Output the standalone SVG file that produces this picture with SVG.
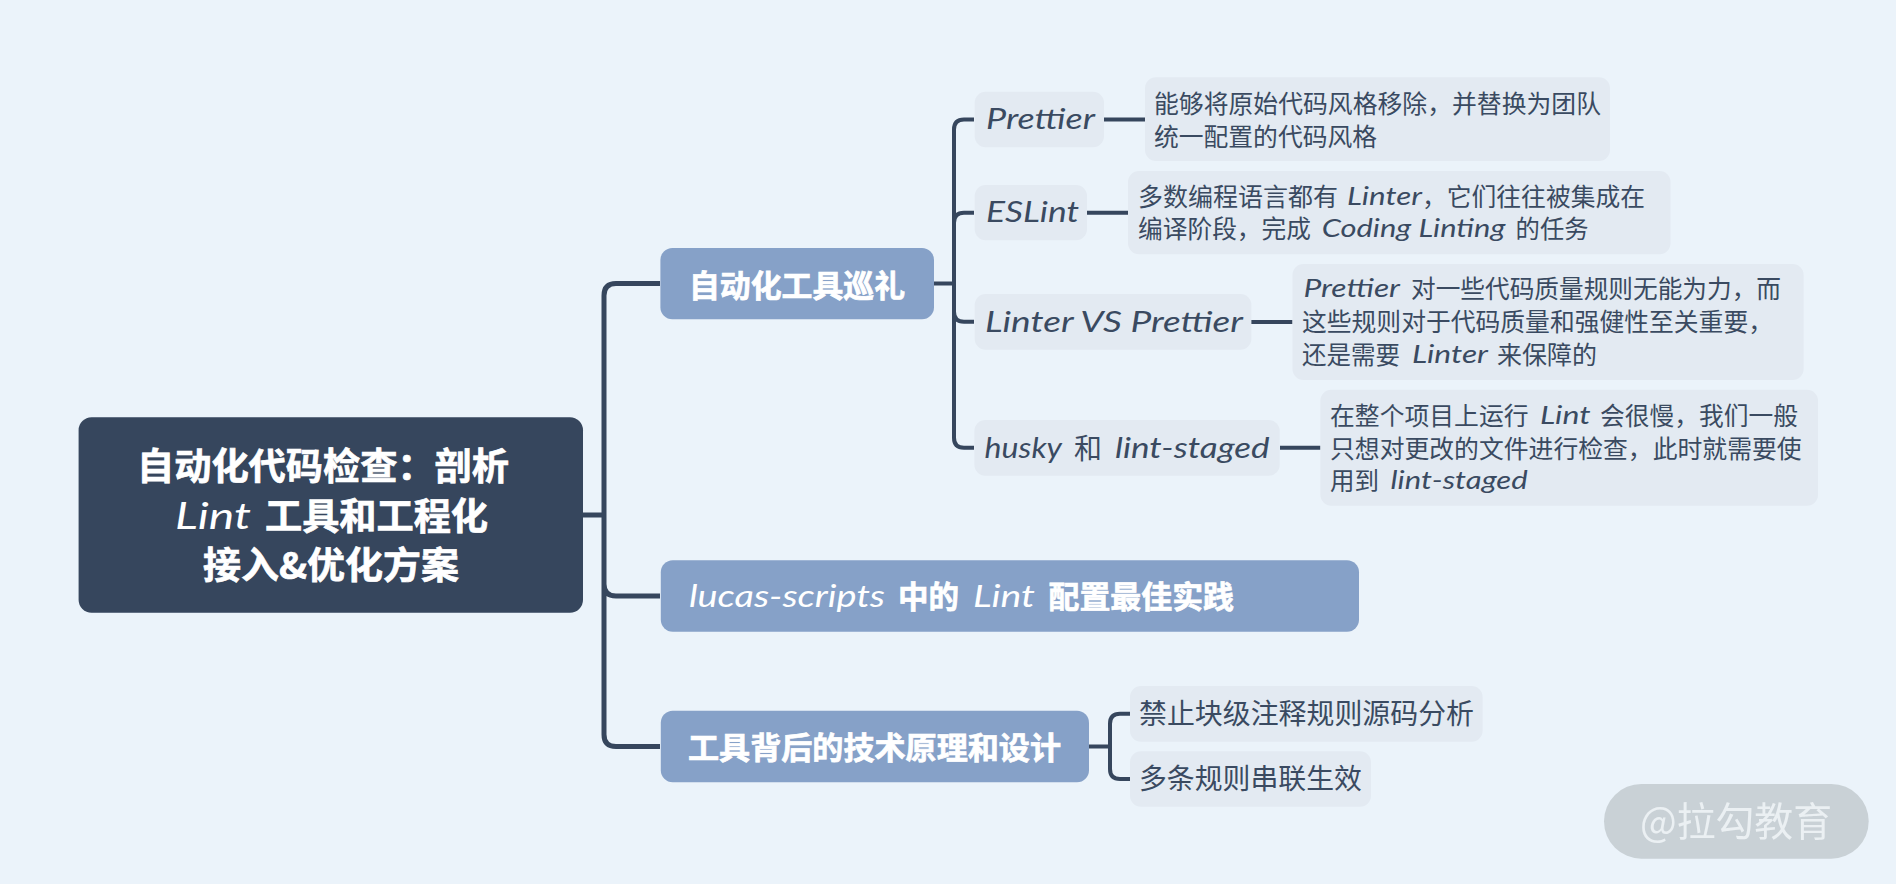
<svg xmlns="http://www.w3.org/2000/svg" width="1896" height="884" viewBox="0 0 1896 884">
<style>
text{font-family:"Noto Sans CJK SC","Liberation Sans",sans-serif;white-space:pre}
.l{font-family:"Lato","Noto Sans CJK SC",sans-serif;font-style:italic;font-weight:400}
.root{fill:#36465d}.main{fill:#86a1c8}.sub{fill:#e3eaf2}
.tw{fill:#fff;font-weight:700}.b{stroke:#fff;stroke-width:.7}.tr{font-size:37px}.tm{font-size:31px}
.ts{fill:#3a4a61;font-size:28px}.td{fill:#3a4a61;font-size:24.8px}
.c{fill:none;stroke:#36465d;stroke-linecap:butt}.c5{stroke-width:5}.c4{stroke-width:4}
</style>
<defs><filter id="soft" x="-5%" y="-5%" width="110%" height="110%"><feGaussianBlur stdDeviation="0.7"/></filter></defs>
<rect width="1896" height="884" fill="#ebf3fa"/>
<g id="connectors">
<path class="c c5" d="M583 515H604M660 283.5H616Q604 283.5 604 295.5V734.500Q604 746.500 616 746.500H660M604 584Q604 596 616 596H660"/>
<path class="c c4" d="M934 283.500H954M974 119.500H964Q954 119.500 954 129.500V437.800Q954 447.800 964 447.800H974M954 222.700Q954 212.700 964 212.700H974M954 311.800Q954 321.800 964 321.800H974"/>
<path class="c c4" d="M1104 119.500H1145M1087 212.700H1128M1251 322H1292.500M1280 447.800H1320.500"/>
<path class="c c4" d="M1089 746.500H1110M1130 713.800H1120Q1110 713.800 1110 723.800V769Q1110 779 1120 779H1130"/>
</g>
<g id="root">
<rect class="root" x="78.600" y="417.300" width="504.400" height="195.400" rx="13"/>
<text class="tw b tr" x="137" y="480" textLength="372" lengthAdjust="spacingAndGlyphs">自动化代码检查：剖析</text>
<text class="tw tr l" x="175" y="529" textLength="76" lengthAdjust="spacingAndGlyphs" style="font-weight:400">Lint</text>
<text class="tw b tr" x="265" y="530" textLength="223" lengthAdjust="spacingAndGlyphs">工具和工程化</text>
<text class="tw b tr" x="203" y="579" textLength="256" lengthAdjust="spacingAndGlyphs">接入&amp;优化方案</text>
</g>
<g id="main1">
<rect class="main" x="660.400" y="248" width="273.600" height="71.300" rx="12"/>
<text class="tw b tm" x="689" y="296.500" textLength="216" lengthAdjust="spacingAndGlyphs">自动化工具巡礼</text>
</g>
<g id="main2">
<rect class="main" x="660.800" y="560.300" width="698.200" height="71.400" rx="12"/>
<text class="tw tm l" x="689" y="607" textLength="196" lengthAdjust="spacingAndGlyphs" style="font-weight:400">lucas-scripts</text>
<text class="tw b tm" x="898" y="607.500" textLength="61" lengthAdjust="spacingAndGlyphs">中的</text>
<text class="tw tm l" x="973" y="607" textLength="62" lengthAdjust="spacingAndGlyphs" style="font-weight:400">Lint</text>
<text class="tw b tm" x="1048.500" y="607.500" textLength="185.500" lengthAdjust="spacingAndGlyphs">配置最佳实践</text>
</g>
<g id="main3">
<rect class="main" x="660.800" y="710.700" width="428.200" height="71.600" rx="12"/>
<text class="tw b tm" x="688" y="758.500" textLength="373" lengthAdjust="spacingAndGlyphs">工具背后的技术原理和设计</text>
</g>
<g id="prettier">
<rect class="sub" x="974.700" y="91.700" width="129.300" height="55.600" rx="11"/>
<text class="ts l" x="986" y="129.300" textLength="109" lengthAdjust="spacingAndGlyphs">Prettier</text>
</g>
<g id="prettier-desc">
<rect class="sub" x="1145" y="77.300" width="465" height="83.700" rx="11"/>
<text class="td" x="1154" y="113" textLength="447" lengthAdjust="spacingAndGlyphs">能够将原始代码风格移除，并替换为团队</text>
<text class="td" x="1154" y="145.500" textLength="223" lengthAdjust="spacingAndGlyphs">统一配置的代码风格</text>
</g>
<g id="eslint">
<rect class="sub" x="974.700" y="185" width="112.300" height="55.300" rx="11"/>
<text class="ts l" x="986" y="222" textLength="93" lengthAdjust="spacingAndGlyphs">ESLint</text>
</g>
<g id="eslint-desc">
<rect class="sub" x="1128" y="171" width="542.500" height="83.300" rx="11"/>
<text class="td" x="1138" y="205.500" textLength="200" lengthAdjust="spacingAndGlyphs">多数编程语言都有</text>
<text class="td l" x="1347" y="204.500" textLength="75" lengthAdjust="spacingAndGlyphs">Linter</text>
<text class="td" x="1422" y="205.500" textLength="223" lengthAdjust="spacingAndGlyphs">，它们往往被集成在</text>
<text class="td" x="1138" y="238" textLength="173" lengthAdjust="spacingAndGlyphs">编译阶段，完成</text>
<text class="td l" x="1321.700" y="237" textLength="183.700" lengthAdjust="spacingAndGlyphs">Coding Linting</text>
<text class="td" x="1515.600" y="238" textLength="73" lengthAdjust="spacingAndGlyphs">的任务</text>
</g>
<g id="linter-vs">
<rect class="sub" x="974.700" y="294" width="276.700" height="55.700" rx="11"/>
<text class="ts l" x="985" y="331.700" textLength="258" lengthAdjust="spacingAndGlyphs">Linter VS Prettier</text>
</g>
<g id="linter-vs-desc">
<rect class="sub" x="1292.500" y="264" width="511.100" height="116" rx="11"/>
<text class="td l" x="1303.400" y="297" textLength="96.600" lengthAdjust="spacingAndGlyphs">Prettier</text>
<text class="td" x="1411" y="298" textLength="370" lengthAdjust="spacingAndGlyphs">对一些代码质量规则无能为力，而</text>
<text class="td" x="1302" y="331" textLength="471" lengthAdjust="spacingAndGlyphs">这些规则对于代码质量和强健性至关重要，</text>
<text class="td" x="1302" y="364" textLength="98" lengthAdjust="spacingAndGlyphs">还是需要</text>
<text class="td l" x="1412" y="363" textLength="76" lengthAdjust="spacingAndGlyphs">Linter</text>
<text class="td" x="1497" y="364" textLength="100" lengthAdjust="spacingAndGlyphs">来保障的</text>
</g>
<g id="husky">
<rect class="sub" x="974.400" y="420" width="305.300" height="55.700" rx="11"/>
<text class="ts l" x="984.600" y="457.700" textLength="77.400" lengthAdjust="spacingAndGlyphs">husky</text>
<text class="ts" x="1074" y="458.500" textLength="28" lengthAdjust="spacingAndGlyphs">和</text>
<text class="ts l" x="1115" y="457.700" textLength="154.500" lengthAdjust="spacingAndGlyphs">lint-staged</text>
</g>
<g id="husky-desc">
<rect class="sub" x="1320.400" y="389.700" width="497.600" height="116" rx="11"/>
<text class="td" x="1330" y="425" textLength="198.600" lengthAdjust="spacingAndGlyphs">在整个项目上运行</text>
<text class="td l" x="1540" y="424" textLength="50.600" lengthAdjust="spacingAndGlyphs">Lint</text>
<text class="td" x="1600" y="425" textLength="198" lengthAdjust="spacingAndGlyphs">会很慢，我们一般</text>
<text class="td" x="1330" y="457.500" textLength="471.600" lengthAdjust="spacingAndGlyphs">只想对更改的文件进行检查，此时就需要使</text>
<text class="td" x="1330" y="490" textLength="49" lengthAdjust="spacingAndGlyphs">用到</text>
<text class="td l" x="1390.600" y="489" textLength="137.100" lengthAdjust="spacingAndGlyphs">lint-staged</text>
</g>
<g id="block-comment">
<rect class="sub" x="1130" y="686" width="352.600" height="55.700" rx="11"/>
<text class="ts" x="1139" y="723.500" textLength="335" lengthAdjust="spacingAndGlyphs">禁止块级注释规则源码分析</text>
</g>
<g id="chained-rules">
<rect class="sub" x="1130" y="751.300" width="241" height="55.400" rx="11"/>
<text class="ts" x="1139" y="788.500" textLength="223" lengthAdjust="spacingAndGlyphs">多条规则串联生效</text>
</g>
<g id="watermark">
<rect x="1604" y="784" width="264.700" height="74.700" rx="37.350" fill="#c9d1d6"/>
<text x="1640" y="836" font-size="40" fill="#ebf0f3" filter="url(#soft)" textLength="192" lengthAdjust="spacingAndGlyphs">@拉勾教育</text>
</g>
</svg>
